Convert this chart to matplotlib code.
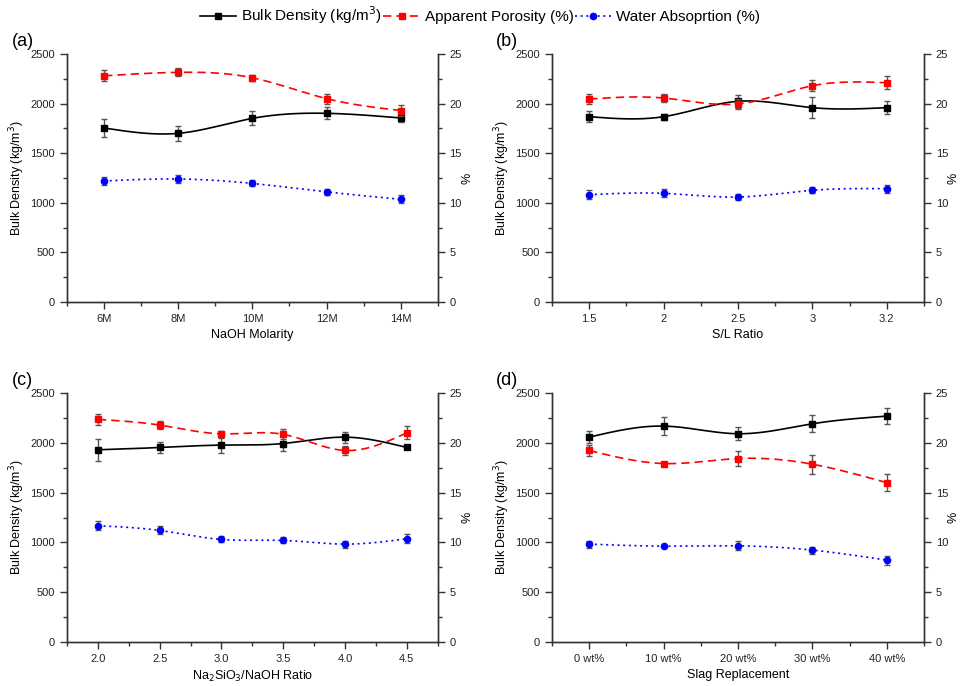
import numpy as np
import matplotlib.pyplot as plt
from matplotlib.lines import Line2D
from matplotlib.ticker import MultipleLocator

plt.rcParams["font.family"] = ["Liberation Sans", "DejaVu Sans"]

# ---- data ----
cats_a = ["6M", "8M", "10M", "12M", "14M"]
bulk_a = [1754, 1700, 1851, 1902, 1855]
bulk_a_err = [95, 75, 70, 60, 45]
poro_a = [22.8, 23.15, 22.6, 20.5, 19.3]
poro_a_err = [0.55, 0.4, 0.3, 0.5, 0.6]
water_a = [12.2, 12.4, 11.95, 11.1, 10.35]
water_a_err = [0.4, 0.4, 0.3, 0.3, 0.4]

cats_b = ["1.5", "2", "2.5", "3", "3.2"]
bulk_b = [1868, 1868, 2023, 1959, 1959]
bulk_b_err = [55, 30, 65, 105, 65]
poro_b = [20.46, 20.56, 19.96, 21.8, 22.1]
poro_b_err = [0.55, 0.45, 0.5, 0.55, 0.65]
water_b = [10.82, 10.95, 10.58, 11.26, 11.42]
water_b_err = [0.45, 0.4, 0.3, 0.3, 0.4]

cats_c = ["2.0", "2.5", "3.0", "3.5", "4.0", "4.5"]
bulk_c = [1930, 1953, 1977, 1993, 2057, 1953]
bulk_c_err = [110, 60, 75, 80, 55, 20]
poro_c = [22.35, 21.78, 20.9, 20.85, 19.23, 21.0]
poro_c_err = [0.57, 0.4, 0.33, 0.5, 0.5, 0.65]
water_c = [11.68, 11.2, 10.3, 10.2, 9.83, 10.37]
water_c_err = [0.45, 0.4, 0.3, 0.3, 0.35, 0.45]

cats_d = ["0 wt%", "10 wt%", "20 wt%", "30 wt%", "40 wt%"]
bulk_d = [2057, 2168, 2091, 2191, 2268]
bulk_d_err = [60, 90, 65, 85, 80]
poro_d = [19.23, 17.92, 18.42, 17.85, 16.0]
poro_d_err = [0.57, 0.15, 0.77, 0.94, 0.85]
water_d = [9.83, 9.63, 9.66, 9.23, 8.22]
water_d_err = [0.35, 0.1, 0.45, 0.35, 0.45]

PANELS = [
    ("(a)", "NaOH Molarity", cats_a, bulk_a, bulk_a_err, poro_a, poro_a_err, water_a, water_a_err),
    ("(b)", "S/L Ratio", cats_b, bulk_b, bulk_b_err, poro_b, poro_b_err, water_b, water_b_err),
    ("(c)", r"Na$_2$SiO$_3$/NaOH Ratio", cats_c, bulk_c, bulk_c_err, poro_c, poro_c_err, water_c, water_c_err),
    ("(d)", "Slag Replacement", cats_d, bulk_d, bulk_d_err, poro_d, poro_d_err, water_d, water_d_err),
]

POS = [
    [0.0698, 0.5598, 0.3862, 0.3615],
    [0.5750, 0.5598, 0.3875, 0.3615],
    [0.0698, 0.0641, 0.3862, 0.3630],
    [0.5750, 0.0641, 0.3875, 0.3630],
]


def spline(x, y, n=200):
    """natural cubic spline, only for drawing the smooth connecting line"""
    x = np.asarray(x, float)
    y = np.asarray(y, float)
    k = len(x)
    h = np.diff(x)
    A = np.zeros((k, k))
    b = np.zeros(k)
    A[0, 0] = A[-1, -1] = 1
    for i in range(1, k - 1):
        A[i, i - 1] = h[i - 1]
        A[i, i] = 2 * (h[i - 1] + h[i])
        A[i, i + 1] = h[i]
        b[i] = 3 * ((y[i + 1] - y[i]) / h[i] - (y[i] - y[i - 1]) / h[i - 1])
    c = np.linalg.solve(A, b)
    xs = np.linspace(x[0], x[-1], n)
    idx = np.clip(np.searchsorted(x, xs) - 1, 0, k - 2)
    dx = xs - x[idx]
    bb = (y[idx + 1] - y[idx]) / h[idx] - h[idx] * (2 * c[idx] + c[idx + 1]) / 3
    dd = (c[idx + 1] - c[idx]) / (3 * h[idx])
    return xs, y[idx] + bb * dx + c[idx] * dx ** 2 + dd * dx ** 3


fig = plt.figure(figsize=(9.6, 6.86), dpi=100)
ecol = "#555555"

for (tag, xlabel, cats, bulk, bulk_err, poro, poro_err, water, water_err), pos in zip(PANELS, POS):
    ax = fig.add_axes(pos)
    ax2 = ax.twinx()
    x = np.arange(len(cats))

    xs, ys = spline(x, bulk)
    ax.plot(xs, ys, color="black", lw=1.2, zorder=3)
    ax.errorbar(x, bulk, yerr=bulk_err, fmt="s", ms=4, color="black",
                ecolor=ecol, elinewidth=1, capsize=2.5, zorder=4)

    xs, ys = spline(x, poro)
    ax2.plot(xs, ys, color="#ff0000", lw=1.2, dashes=(5, 3), zorder=3)
    ax2.errorbar(x, poro, yerr=poro_err, fmt="s", ms=4, color="#ff0000",
                 ecolor=ecol, elinewidth=1, capsize=2.5, zorder=4)

    xs, ys = spline(x, water)
    ax2.plot(xs, ys, color="#0000ff", lw=1.2, dashes=(1.2, 2.2), zorder=3)
    ax2.errorbar(x, water, yerr=water_err, fmt="o", ms=4.5, color="#0000ff",
                 ecolor=ecol, elinewidth=1, capsize=2.5, zorder=4)

    ax.set_xlim(-0.5, len(cats) - 0.5)
    ax.set_xticks(x)
    ax.set_xticklabels(cats)
    ax.xaxis.set_minor_locator(MultipleLocator(0.5))
    ax.set_ylim(0, 2500)
    ax.yaxis.set_major_locator(MultipleLocator(500))
    ax.yaxis.set_minor_locator(MultipleLocator(250))
    ax2.set_ylim(0, 25)
    ax2.yaxis.set_major_locator(MultipleLocator(5))
    ax2.yaxis.set_minor_locator(MultipleLocator(2.5))

    for a in (ax, ax2):
        a.spines["top"].set_visible(False)
        for s in a.spines.values():
            s.set_color("#333333")
            s.set_linewidth(1.0)
        a.tick_params(which="major", direction="out", length=5, width=1,
                      color="#333333", labelsize=8, labelcolor="#222222")
        a.tick_params(which="minor", direction="out", length=3, width=1,
                      color="#333333")

    ax.set_xlabel(xlabel, fontsize=9, labelpad=4)
    ax.set_ylabel("Bulk Density (kg/m$^3$)", fontsize=9)
    ax.yaxis.set_label_coords(-0.108, 0.5)
    ax2.set_ylabel("%", fontsize=9)
    ax2.yaxis.set_label_coords(1.064, 0.5)
    ax.text(-0.15, 1.05, tag, transform=ax.transAxes, fontsize=13,
            ha="left", va="center")

handles = [
    Line2D([], [], color="black", lw=1.2, marker="s", ms=4),
    Line2D([], [], color="#ff0000", lw=1.2, dashes=(5, 3), marker="s", ms=4),
    Line2D([], [], color="#0000ff", lw=1.2, dashes=(1.2, 2.2), marker="o", ms=4.5),
]
labels = ["Bulk Density (kg/m$^3$)", "Apparent Porosity (%)", "Water Absoprtion (%)"]
fig.legend(handles, labels, loc="center", bbox_to_anchor=(0.5, 0.978), ncol=3,
           frameon=False, fontsize=11, handlelength=2.4, handletextpad=0.3,
           columnspacing=0.1)

fig.savefig("out.png", dpi=100)
